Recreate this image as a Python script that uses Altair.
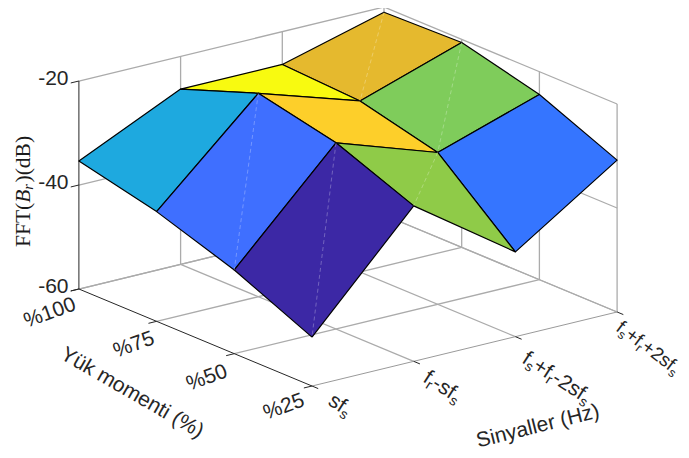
import altair as alt
import pandas as pd
import math

# ---- data ----
signals = ["sfs", "fr-sfs", "fs+fr-2sfs", "fs+fr+2sfs"]
loads = ["%25", "%50", "%75", "%100"]
ztick_values = [-20, -40, -60]
fft_sfs = [-50.6, -43.9, -38.9, -35.4]
fft_fr_sfs = [-30.1, -24.2, -20.9, -26.3]
fft_minus = [-43.7, -30.8, -27.1, -26.3]
fft_plus = [-30.8, -24.4, -20.6, -21.0]
patch_colors = [
    ["#3C28A5", "#3F6FFF", "#1EA9DF"],
    ["#8FCB48", "#FDCF2A", "#F8FA10"],
    ["#3575FF", "#7FCC5B", "#E5B92E"],
]
seam_patches = [(0, 0), (0, 1), (1, 0), (2, 1), (2, 2)]

Z = [fft_sfs, fft_fr_sfs, fft_minus, fft_plus]

# ---- oblique projection of the 3-D axes box onto the page ----
ORIGIN = (312.0, 386.0)
STEP_I = (101.7, -24.67)
STEP_J = (-77.7, -32.33)
PX_PER_DB = 5.2
W, H = 673, 442
OFFSET = 8


def proj(i, j, z=-60.0):
    return (
        ORIGIN[0] + i * STEP_I[0] + j * STEP_J[0],
        ORIGIN[1] + i * STEP_I[1] + j * STEP_J[1] - (z + 60.0) * PX_PER_DB,
    )


xs = alt.Scale(domain=[OFFSET, OFFSET + W], range=[0, W])
ys = alt.Scale(domain=[OFFSET, OFFSET + H], range=[0, H])
X = alt.X("x:Q", scale=xs, axis=None)
Y = alt.Y("y:Q", scale=ys, axis=None)


def rule(pairs, color, width, dash=None, opacity=1.0):
    rows = [{"x": a[0], "y": a[1], "x2": b[0], "y2": b[1]} for a, b in pairs]
    kw = dict(color=color, strokeWidth=width, opacity=opacity)
    if dash:
        kw["strokeDash"] = dash
    return alt.Chart(pd.DataFrame(rows)).mark_rule(**kw).encode(x=X, y=Y, x2="x2:Q", y2="y2:Q")


# grid
grid = []
for k in range(1, 4):
    grid.append((proj(k, 0), proj(k, 3)))
    grid.append((proj(0, k), proj(3, k)))
for k in range(1, 3):
    grid.append((proj(k, 3, -60), proj(k, 3, -20)))
    grid.append((proj(3, k, -60), proj(3, k, -20)))
grid.append((proj(3, 0, -60), proj(3, 0, -20)))
grid.append((proj(3, 3, -60), proj(3, 3, -20)))
for z in ztick_values:
    grid.append((proj(0, 3, z), proj(3, 3, z)))
    grid.append((proj(3, 3, z), proj(3, 0, z)))
grid_layer = rule(grid, "#ABABAB", 1.3)
front_right = rule([(proj(0, 0), proj(3, 0))], "#9A9A9A", 1)

# axes
axes = [(proj(0, 0), proj(0, 3)), (proj(0, 3, -60), proj(0, 3, -20))]
axes_layer = rule(axes, "#262626", 1)
ticks = []
for j in range(4):
    p = proj(0, j)
    ticks.append((p, (p[0] - 0.08 * STEP_I[0], p[1] - 0.08 * STEP_I[1])))
for i in range(4):
    p = proj(i, 0)
    ticks.append((p, (p[0] - 0.08 * STEP_J[0], p[1] - 0.08 * STEP_J[1])))
for z in ztick_values:
    p = proj(0, 3, z)
    ticks.append((p, (p[0] - 0.08 * STEP_I[0], p[1] - 0.08 * STEP_I[1])))
tick_layer = rule(ticks, "#262626", 1)

# surface patches, far to near
patch_layers = []
cells = sorted(((i, j) for i in range(3) for j in range(3)), key=lambda c: -(c[0] + c[1]))
for i, j in cells:
    corners = [(i, j), (i + 1, j), (i + 1, j + 1), (i, j + 1), (i, j)]
    rows = []
    for k, (a, b) in enumerate(corners):
        px, py = proj(a, b, Z[a][b])
        rows.append({"x": px, "y": py, "k": k})
    patch_layers.append(
        alt.Chart(pd.DataFrame(rows))
        .mark_line(fill=patch_colors[i][j], stroke="#000000", strokeWidth=1.2, strokeJoin="round")
        .encode(x=X, y=Y, order="k:Q")
    )

seams = [(proj(i + 1, j + 1, Z[i + 1][j + 1]), proj(i, j, Z[i][j])) for i, j in seam_patches]
seam_layer = rule(seams, "#FFFFFF", 0.8, dash=[4, 3], opacity=0.35)

# ---- text ----
ARIAL = {"s": .5, "f": .278, "r": .333, "+": .584, "-": .333, "2": .556}


def text_layer(rows, font, size, angle, style="normal", align="left", baseline="alphabetic", color="#262626"):
    return (
        alt.Chart(pd.DataFrame(rows))
        .mark_text(font=font, fontSize=size, angle=angle, align=align, baseline=baseline,
                   color=color, fontStyle=style)
        .encode(x=X, y=Y, text="t:N")
    )


SANS = "Liberation Sans"
SERIF = "Liberation Serif"
layers_text = []

layers_text.append(text_layer(
    [{"x": 68.5, "y": proj(0, 3, z)[1] - 2.5, "t": str(z)} for z in ztick_values],
    SANS, 21, 0, align="right", baseline="middle"))

load_pos = [(284, 407), (207, 378), (134, 345), (50, 313)]
layers_text.append(text_layer(
    [{"x": p[0], "y": p[1], "t": t} for p, t in zip(load_pos, loads)],
    SANS, 21, 340, align="center", baseline="middle"))

layers_text.append(text_layer([{"x": 132, "y": 393, "t": "Yük momenti (%)"}], SANS, 21, 30,
                              align="center", baseline="middle"))
layers_text.append(text_layer([{"x": 538, "y": 426.5, "t": "Sinyaller (Hz)"}], SANS, 21, 346,
                              align="center", baseline="middle"))

# rotated tick labels with subscripts, laid out run by run
RUNS = [
    [("sf", 0), ("s", 1)],
    [("f", 0), ("r", 1), ("-sf", 0), ("s", 1)],
    [("f", 0), ("s", 1), ("+f", 0), ("r", 1), ("-2sf", 0), ("s", 1)],
    [("f", 0), ("s", 1), ("+f", 0), ("r", 1), ("+2sf", 0), ("s", 1)],
]
STARTS = [(327, 404), (422, 381), (521, 362), (615, 330)]
LABEL_SCALE = [1.0, 1.0, 1.0, 0.9]
LABEL_ANGLE = [33, 33, 33, 37]
MAIN, SUB = 21.0, 14.0
for runs, (sx, sy), sc, deg in zip(RUNS, STARTS, LABEL_SCALE, LABEL_ANGLE):
    ang = math.radians(deg)
    main_rows, sub_rows = [], []
    adv = 0.0
    for t, is_sub in runs:
        size = (SUB if is_sub else MAIN) * sc
        dn = 4.0 if is_sub else 0.0
        row = {
            "x": sx + adv * math.cos(ang) - dn * math.sin(ang),
            "y": sy + adv * math.sin(ang) + dn * math.cos(ang),
            "t": t,
        }
        (sub_rows if is_sub else main_rows).append(row)
        adv += sum(ARIAL[c] for c in t) * size
    layers_text.append(text_layer(main_rows, SANS, MAIN * sc, deg))
    layers_text.append(text_layer(sub_rows, SANS, SUB * sc, deg))

# vertical z title
ZT = 21.5
title_x = 30.0
y0 = 247.0


def ztitle(t, y, size=ZT, style="normal", dx=0.0):
    return text_layer([{"x": title_x + dx, "y": y, "t": t}], SERIF, size, 270, style=style, color="#1a1a1a")


layers_text.append(ztitle("FFT(", y0))
y1 = y0 - (0.556 * 2 + 0.611 + 0.333) * ZT
layers_text.append(ztitle("B", y1, style="italic"))
y2 = y1 - 0.611 * ZT
layers_text.append(ztitle("r", y2, size=14.5, style="italic", dx=3))
y3 = y2 - 0.389 * 14.5 - 1.5
layers_text.append(ztitle(")(dB)", y3))

chart = alt.layer(
    grid_layer, front_right, axes_layer, tick_layer, *patch_layers, seam_layer, *layers_text
).properties(
    width=W, height=H, padding=0, autosize=alt.AutoSizeParams(type="none"), background="white"
).configure_view(stroke=None)

chart.save("out.html", embed_options={"renderer": "svg", "actions": False})
